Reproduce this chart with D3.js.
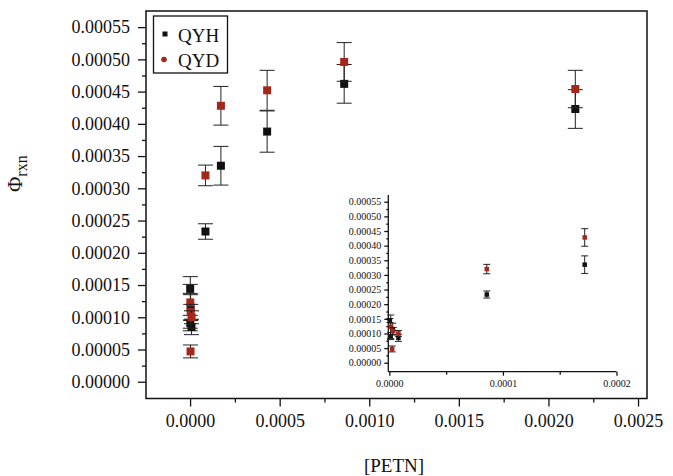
<!DOCTYPE html>
<html>
<head>
<meta charset="utf-8">
<script src="https://cdn.jsdelivr.net/npm/d3@7"></script>
<style>
  body { margin: 0; background: #fff; }
  svg { display: block; font-family: "Liberation Serif", "Times New Roman", serif; }
</style>
</head>
<body>
<div id="chart"></div>
<script>
// QYH series: [PETN], quantum yield, error
var petnH = [0.0000005, 0.000003, 0.0000012, 0.000008, 0.0000858, 0.000172, 0.00043, 0.00086, 0.00215];
var qyh = [0.000144, 0.000115, 0.000091, 0.000085, 0.000233, 0.000335, 0.000388, 0.000462, 0.000423];
var qyhErr = [0.000007, 0.00002, 0.000012, 0.000012, 0.000012, 0.00003, 0.000032, 0.00003, 0.00003];

// QYD series
var petnD = [0.0000012, 0.0000035, 0.000008, 0.0000025, 0.0000858, 0.000172, 0.00043, 0.00086, 0.00215];
var qyd = [0.000123, 0.000108, 0.0001, 0.000047, 0.00032, 0.000428, 0.000452, 0.000496, 0.000454];
var qydErr = [0.00004, 0.000012, 0.00001, 0.00001, 0.000016, 0.00003, 0.000031, 0.00003, 0.000029];

var seriesNames = ["QYH", "QYD"];

var yTicks = [0, 0.00005, 0.0001, 0.00015, 0.0002, 0.00025, 0.0003, 0.00035, 0.0004, 0.00045, 0.0005, 0.00055];
var yMinor = [0.000025, 0.000075, 0.000125, 0.000175, 0.000225, 0.000275, 0.000325, 0.000375, 0.000425, 0.000475, 0.000525];
var xTicks = [0, 0.0005, 0.001, 0.0015, 0.002, 0.0025];
var xMinor = [0.00025, 0.00075, 0.00125, 0.00175, 0.00225];
var insetXTicks = [0, 0.0001, 0.0002];
var insetXMinor = [0.00005, 0.00015];

var W = 673, H = 476;
var serif = '"Liberation Serif", "Times New Roman", serif';
var frame = {left: 146, right: 647, top: 11, bottom: 398.5};
var inset = {left: 388.3, right: 616.5, top: 195, bottom: 371.7};
var colors = {QYH: "#111111", QYD: "#a3281c"};

function toPoints(xs, ys, es, name) {
  return xs.map(function(x, i) { return {x: x, y: ys[i], e: es[i], s: name}; });
}
var data = toPoints(petnH, qyh, qyhErr, "QYH").concat(toPoints(petnD, qyd, qydErr, "QYD"));

var svg = d3.select("#chart").append("svg")
    .attr("width", W)
    .attr("height", H)
    .style("font-family", serif);

// main plot
var x = d3.scaleLinear().domain([-0.000246, 0.00255]).range([frame.left, frame.right]);
var y = d3.scaleLinear().domain([-0.000026, 0.000575]).range([frame.bottom, frame.top]);

svg.append("rect")
    .attr("x", frame.left).attr("y", frame.top)
    .attr("width", frame.right - frame.left).attr("height", frame.bottom - frame.top)
    .attr("fill", "none").attr("stroke", "#111").attr("stroke-width", 1.5);

function styleAxis(g, size) {
  g.select(".domain").remove();
  g.selectAll(".tick line").attr("stroke", "#111").attr("stroke-width", 1.3);
  g.selectAll(".tick text")
      .attr("fill", "#111")
      .style("font-family", serif)
      .style("font-size", size + "px");
}

svg.append("g")
    .attr("transform", "translate(" + frame.left + ",0)")
    .call(d3.axisLeft(y).tickValues(yTicks).tickSize(8).tickPadding(8).tickFormat(d3.format(".5f")))
    .call(styleAxis, 18);
svg.append("g")
    .attr("transform", "translate(" + frame.left + ",0)")
    .call(d3.axisLeft(y).tickValues(yMinor).tickSize(4).tickFormat(""))
    .call(styleAxis, 18);
svg.append("g")
    .attr("transform", "translate(0," + frame.bottom + ")")
    .call(d3.axisBottom(x).tickValues(xTicks).tickSize(8).tickPadding(8).tickFormat(d3.format(".4f")))
    .call(styleAxis, 18);
svg.append("g")
    .attr("transform", "translate(0," + frame.bottom + ")")
    .call(d3.axisBottom(x).tickValues(xMinor).tickSize(4).tickFormat(""))
    .call(styleAxis, 18);

function drawPoints(g, xs, ys, pts, cap, size) {
  var grp = g.selectAll(".pt")
      .data(pts)
    .enter().append("g")
      .attr("class", "pt");
  grp.append("line")
      .attr("x1", function(d) { return xs(d.x); })
      .attr("x2", function(d) { return xs(d.x); })
      .attr("y1", function(d) { return ys(d.y - d.e); })
      .attr("y2", function(d) { return ys(d.y + d.e); })
      .attr("stroke", "#222").attr("stroke-width", 1);
  [-1, 1].forEach(function(k) {
    grp.append("line")
        .attr("x1", function(d) { return xs(d.x) - cap; })
        .attr("x2", function(d) { return xs(d.x) + cap; })
        .attr("y1", function(d) { return ys(d.y + k * d.e); })
        .attr("y2", function(d) { return ys(d.y + k * d.e); })
        .attr("stroke", "#222").attr("stroke-width", 1);
  });
  grp.append("rect")
      .attr("x", function(d) { return xs(d.x) - size / 2; })
      .attr("y", function(d) { return ys(d.y) - size / 2; })
      .attr("width", size).attr("height", size)
      .attr("fill", function(d) { return colors[d.s]; });
}

drawPoints(svg.append("g"), x, y, data, 7.5, 8);

// axis titles
svg.append("text")
    .attr("x", 394)
    .attr("y", 472)
    .attr("text-anchor", "middle")
    .style("font-size", "19px")
    .attr("fill", "#111")
    .text("[PETN]");

var yl = svg.append("text")
    .attr("transform", "translate(22,192) rotate(-90)")
    .attr("fill", "#111");
yl.append("tspan").style("font-size", "21px").text("\u03A6");
yl.append("tspan").style("font-size", "16px").attr("dy", 5).text("rxn");

// legend
var leg = svg.append("g");
leg.append("rect")
    .attr("x", 153.5).attr("y", 16).attr("width", 74).attr("height", 57)
    .attr("fill", "#fff").attr("stroke", "#111").attr("stroke-width", 1.3);
seriesNames.forEach(function(name, i) {
  var cy = 34 + i * 25.5;
  if (name === "QYH") {
    leg.append("rect").attr("x", 162.5).attr("y", cy - 2.5).attr("width", 5).attr("height", 5)
        .attr("fill", colors[name]);
  } else {
    leg.append("circle").attr("cx", 164).attr("cy", cy).attr("r", 2.8).attr("fill", colors[name]);
  }
  leg.append("text")
      .attr("x", 178).attr("y", cy + 7.5)
      .style("font-size", "19px").attr("fill", "#111")
      .text(name);
});

// inset
var ix = d3.scaleLinear().domain([-0.0000009, 0.0002]).range([inset.left, inset.right]);
var iy = d3.scaleLinear().domain([-0.0000307, 0.000573]).range([inset.bottom, inset.top]);
var ig = svg.append("g");

ig.append("line")
    .attr("x1", inset.left).attr("x2", inset.left)
    .attr("y1", inset.top).attr("y2", inset.bottom)
    .attr("stroke", "#111").attr("stroke-width", 1.3);
ig.append("line")
    .attr("x1", inset.left).attr("x2", inset.right)
    .attr("y1", inset.bottom).attr("y2", inset.bottom)
    .attr("stroke", "#111").attr("stroke-width", 1.3);

ig.append("g")
    .attr("transform", "translate(" + inset.left + ",0)")
    .call(d3.axisLeft(iy).tickValues(yTicks).tickSize(4).tickPadding(3).tickFormat(d3.format(".5f")))
    .call(styleAxis, 10);
ig.append("g")
    .attr("transform", "translate(" + inset.left + ",0)")
    .call(d3.axisLeft(iy).tickValues(yMinor).tickSize(2).tickFormat(""))
    .call(styleAxis, 10);
ig.append("g")
    .attr("transform", "translate(0," + inset.bottom + ")")
    .call(d3.axisBottom(ix).tickValues(insetXTicks).tickSize(4).tickPadding(4).tickFormat(d3.format(".4f")))
    .call(styleAxis, 10);
ig.append("g")
    .attr("transform", "translate(0," + inset.bottom + ")")
    .call(d3.axisBottom(ix).tickValues(insetXMinor).tickSize(3).tickFormat(""))
    .call(styleAxis, 10);

drawPoints(ig, ix, iy, data.filter(function(d) { return d.x <= 0.0002; }), 3.5, 4.5);
</script>
</body>
</html>
